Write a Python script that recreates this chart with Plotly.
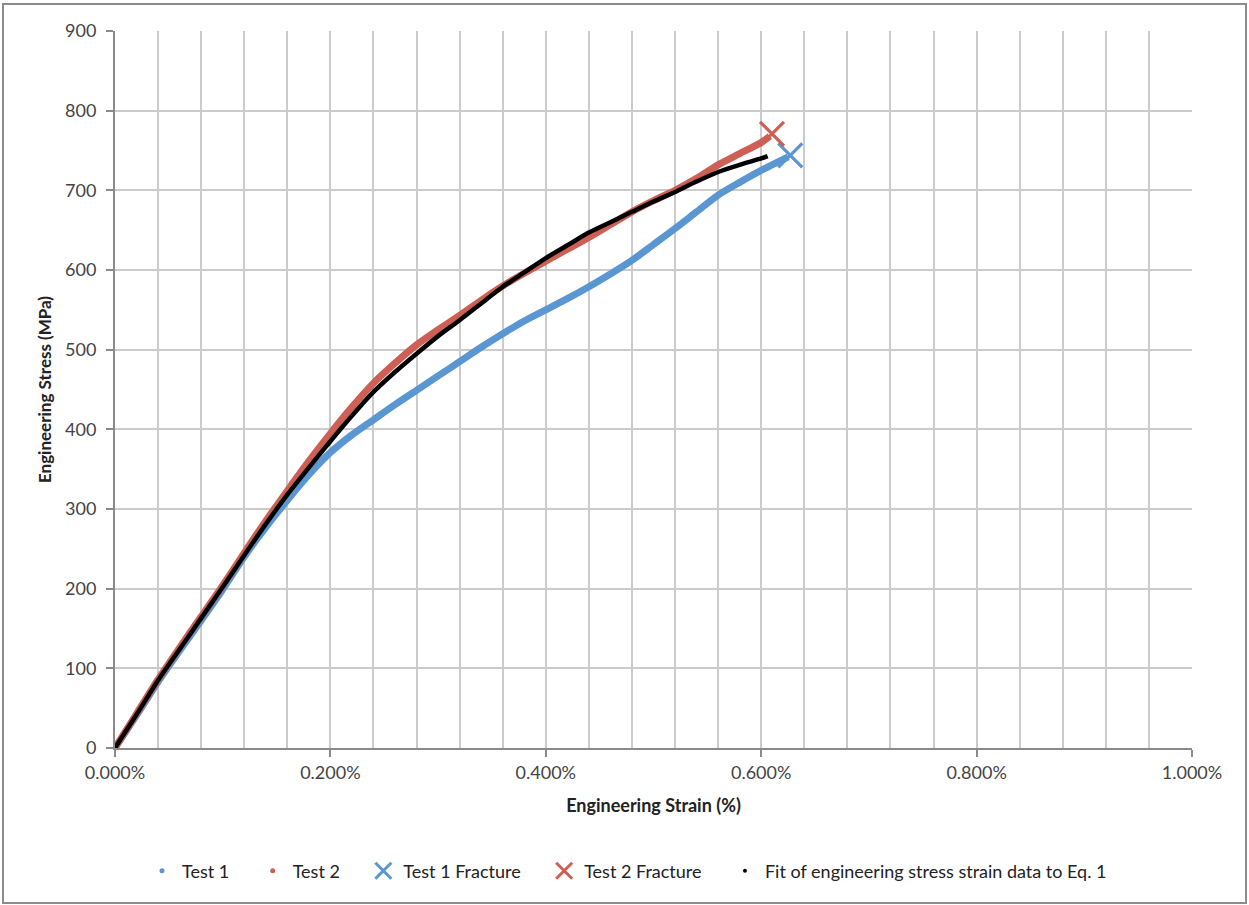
import plotly.graph_objects as go

strain = [0.0, 0.02, 0.04, 0.06, 0.08, 0.10, 0.12, 0.14, 0.16, 0.18, 0.20, 0.22, 0.24, 0.26,
          0.28, 0.30, 0.32, 0.34, 0.36, 0.38, 0.40, 0.42, 0.44, 0.46, 0.48, 0.50, 0.52,
          0.54, 0.56, 0.58, 0.60]

test1_strain = strain + [0.625]
test1_stress = [0, 41, 83, 122, 160, 199, 240, 277, 311, 343, 371, 393, 412, 431,
                449, 467, 485, 503, 520, 536, 550, 564, 579, 595, 612, 632, 652,
                673, 694, 710, 725, 742]

test2_strain = strain + [0.608]
test2_stress = [0, 43, 86, 126, 165, 204, 245, 285, 323, 360, 395, 428, 458, 483,
                506, 525, 543, 562, 580, 596, 611, 626, 641, 657, 673, 687, 700,
                715, 732, 746, 760, 768]

fit_strain = strain + [0.606]
fit_stress = [0, 42, 85, 124, 163, 202, 242, 281, 318, 352, 385, 417, 447, 472,
              495, 517, 537, 558, 579, 597, 615, 631, 647, 660, 673, 686, 698,
              711, 723, 732, 740, 743]

fracture1_strain, fracture1_stress = [0.627], [744]
fracture2_strain, fracture2_stress = [0.610], [771]

x_ticks = [0.0, 0.2, 0.4, 0.6, 0.8, 1.0]
x_ticklabels = ["0.000%", "0.200%", "0.400%", "0.600%", "0.800%", "1.000%"]

BLUE = "#5A96D2"
RED = "#CD5F55"
FONT = "Lato"
PAD = "\u00a0" * 4

fig = go.Figure()

fig.add_trace(go.Scatter(x=test1_strain, y=test1_stress, mode="lines",
                         line=dict(color=BLUE, width=7, shape="spline", smoothing=0.7),
                         showlegend=False, hoverinfo="skip"))
fig.add_trace(go.Scatter(x=test2_strain, y=test2_stress, mode="lines",
                         line=dict(color=RED, width=7, shape="spline", smoothing=0.7),
                         showlegend=False, hoverinfo="skip"))
fig.add_trace(go.Scatter(x=fit_strain, y=fit_stress, mode="lines",
                         line=dict(color="black", width=4.5, shape="spline", smoothing=0.7),
                         showlegend=False, hoverinfo="skip"))
fig.add_trace(go.Scatter(x=fracture1_strain, y=fracture1_stress, mode="markers",
                         name="Test 1 Fracture", showlegend=False, hoverinfo="skip",
                         marker=dict(symbol="x-thin", size=24, line=dict(color=BLUE, width=3.2), color=BLUE)))
fig.add_trace(go.Scatter(x=fracture2_strain, y=fracture2_stress, mode="markers",
                         name="Test 2 Fracture", showlegend=False, hoverinfo="skip",
                         marker=dict(symbol="x-thin", size=24, line=dict(color=RED, width=3.2), color=RED)))

# legend entries (Excel-style small dots / crosses)
legend_items = [
    ("Test 1" + PAD, dict(color=BLUE, size=5)),
    ("Test 2" + PAD, dict(color=RED, size=5)),
    ("Test 1 Fracture" + PAD, dict(symbol="x-thin", size=16, line=dict(color=BLUE, width=3), color=BLUE)),
    ("Test 2 Fracture" + PAD, dict(symbol="x-thin", size=16, line=dict(color=RED, width=3), color=RED)),
    ("Fit of engineering stress strain data to Eq. 1", dict(color="black", size=4)),
]
for name, mk in legend_items:
    fig.add_trace(go.Scatter(x=[None], y=[None], mode="markers", name=name, marker=mk))

W, H = 1249, 905
L, R, T, B = 115, 57, 31, 157
pw, ph = W - L - R, H - T - B


def px_x(p):
    return (p - L) / pw


def px_y(p):
    return (H - B - p) / ph


GRID = "#CBCBCB"
AXIS = "#8A8A8A"

fig.update_layout(
    width=W, height=H,
    margin=dict(l=L, r=R, t=T, b=B),
    paper_bgcolor="white", plot_bgcolor="white",
    font=dict(family=FONT, size=18, color="#333333"),
    showlegend=True,
    legend=dict(orientation="h", x=px_x(627), xanchor="center", y=px_y(871), yanchor="middle",
                font=dict(size=18, color="#222222"), itemsizing="trace",
                tracegroupgap=0, itemwidth=30),
    xaxis=dict(range=[0, 1.0], tickvals=x_ticks, ticktext=x_ticklabels,
               showgrid=True, gridcolor=GRID, gridwidth=1.6,
               minor=dict(dtick=0.04, tick0=0, showgrid=True, gridcolor=GRID, gridwidth=1.6),
               showline=True, linecolor=AXIS, linewidth=2,
               ticks="outside", ticklen=7, tickcolor=AXIS, tickwidth=1.5,
               zeroline=False, fixedrange=True,
               title=dict(text="<b>Engineering Strain (%)</b>", font=dict(size=18, color="#222222"),
                          standoff=18),
               tickfont=dict(size=18, color="#444444")),
    yaxis=dict(range=[0, 900], dtick=100, showgrid=True, gridcolor=GRID, gridwidth=1.6,
               showline=True, linecolor=AXIS, linewidth=2,
               ticks="outside", ticklen=7, tickcolor=AXIS, tickwidth=1.5,
               ticklabelstandoff=6,
               zeroline=False, fixedrange=True,
               title=dict(text="<b>Engineering Stress (MPa)</b>", font=dict(size=17, color="#222222"),
                          standoff=9),
               tickfont=dict(size=18, color="#444444")),
    shapes=[dict(type="rect", xref="paper", yref="paper",
                 x0=px_x(3), x1=px_x(1246), y0=px_y(903), y1=px_y(4),
                 line=dict(color="#8C8C8C", width=2), layer="below")],
)

fig.write_html("out.html", config={"displayModeBar": False},
               post_script="document.body.style.margin='0';document.body.style.overflow='hidden';")
